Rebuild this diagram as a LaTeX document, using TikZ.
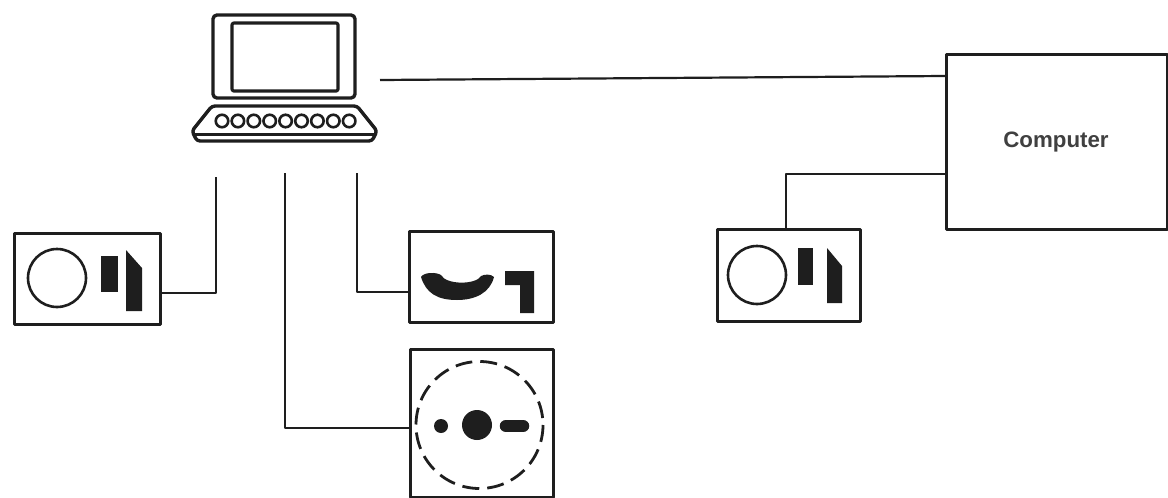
\documentclass[tikz,border=0pt]{standalone}
\usepackage{fontspec}
\setmainfont{Liberation Sans}
\definecolor{ink}{HTML}{1E1E1E}
\tikzset{
  ln/.style={draw=ink,line width=2.6pt},
  thin ln/.style={draw=ink,line width=2.2pt},
  box/.style={draw=ink,line width=3pt,fill=white,rectangle,inner sep=0pt,minimum width=#1},
  fillk/.style={fill=ink,draw=none},
  key/.style={circle,draw=ink,line width=2.6pt,fill=white,minimum size=12.5pt,inner sep=0pt},
}
\begin{document}
\begin{tikzpicture}[x=1pt,y=-1pt,line join=round]
\useasboundingbox[fill=white] (0,0) rectangle (1168,498);
% computer
\node[box=221pt,minimum height=175pt] (comp) at (1057,141.5) {};
\node[font=\bfseries\fontsize{22.3}{24}\selectfont,text=ink!85] (complabel) at (1056,142) {Computer};
% boxes
\node[box=146pt,minimum height=91pt] (left) at (87,278.5) {};
\node[box=144pt,minimum height=91pt] (phone) at (481,276.5) {};
\node[box=143pt,minimum height=148pt] (dial) at (481.5,423) {};
\node[box=143pt,minimum height=92pt] (right) at (788.5,275) {};
% terminal
\node[draw=ink,line width=3.4pt,rounded corners=4pt,minimum width=142pt,minimum height=83pt,inner sep=0pt] (term) at (284,56.5) {};
\node[draw=ink,line width=3.2pt,rounded corners=2pt,minimum width=106pt,minimum height=68pt,inner sep=0pt] (screen) at (285,57) {};
\coordinate (baseA) at (212,106);
\draw[ln,line width=3.4pt,rounded corners=3pt] (baseA) -- (357,106) -- (377,131) -- (372,141) -- (197,141) -- (192,131) -- cycle;
\draw[ln,line width=3pt] (194,134) -- (375,134);
\foreach \i in {0,...,8} \node[key] (k\i) at ({222+\i*15.9},121) {};
% connector free ends
\coordinate (t1) at (380,80);
\coordinate (t2) at (216,177);
\coordinate (t3) at (285,173);
\coordinate (t4) at (357,173);
\coordinate (c1) at (comp.west |- 0,76);
\coordinate (c2) at (comp.west |- 0,174);
\coordinate (r1) at (786,229);
\coordinate (l1) at (left.east |- 0,293);
\coordinate (p1) at (phone.west |- 0,292);
\coordinate (d1) at (dial.west |- 0,428);
\draw[thin ln] (t1) -- (c1);
\draw[thin ln] (l1) -| (t2);
\draw[thin ln] (t3) |- (d1);
\draw[thin ln] (t4) |- (p1);
\draw[thin ln] (r1) |- (c2);
% left device
\draw[ln] (57,278) circle (29);
\fill[fillk] (101,256) rectangle (118,292);
\fill[fillk] (126,250) -- (142,268) -- (142,311) -- (126,311) -- cycle;
% right device
\draw[ln] (757,275) circle (29);
\fill[fillk] (798,248) rectangle (813,285);
\fill[fillk] (827,248) -- (842,266) -- (842,303) -- (827,303) -- cycle;
% handset
\fill[fillk] (421,277) .. controls (424,272) and (436,272) .. (441,275)
  .. controls (446,285) and (476,285) .. (481,276) .. controls (485,274) and (491,274) .. (494,277)
  .. controls (490,293) and (475,300) .. (457,300)
  .. controls (437,300) and (426,293) .. (421,277) -- cycle;
\fill[fillk] (505,271) -- (534,271) -- (534,313) -- (520,313) -- (520,285) -- (505,285) -- cycle;
% dial
\draw[ln,line width=2.8pt,dash pattern=on 17pt off 8pt] (479.5,425) circle (63.5);
\fill[fillk] (441,426) circle (7);
\fill[fillk] (477,425) circle (15);
\draw[draw=ink,line width=12.5pt,line cap=round] (506,426) -- (523,426);
\end{tikzpicture}
\end{document}
